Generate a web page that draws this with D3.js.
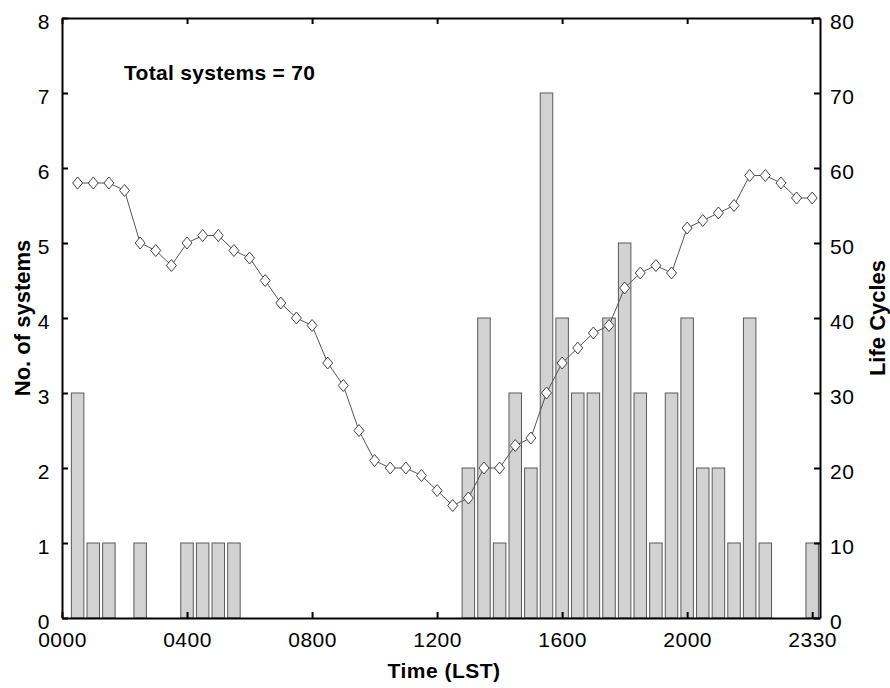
<!DOCTYPE html>
<html>
<head>
<meta charset="utf-8">
<script src="https://cdn.jsdelivr.net/npm/d3@7"></script>
<style>
  body { margin: 0; background: #fff; }
  svg text { font-family: "Liberation Sans", Arial, sans-serif; fill: #000; }
</style>
</head>
<body>
<div id="chart"></div>
<script>
// half-hour slots, index 1..48
const slot_index = [1,2,3,4,5,6,7,8,9,10,11,12,13,14,15,16,17,18,19,20,21,22,23,24,
                    25,26,27,28,29,30,31,32,33,34,35,36,37,38,39,40,41,42,43,44,45,46,47,48];
const system_counts = [3,1,1,0,1,0,0,1,1,1,1,0,0,0,0,0,0,0,0,0,0,0,0,0,
                       0,2,4,1,3,2,7,4,3,3,4,5,3,1,3,4,2,2,1,4,1,0,0,1];
const life_cycles = [58,58,58,57,50,49,47,50,51,51,49,48,45,42,40,39,34,31,25,21,20,20,19,17,
                     15,16,20,20,23,24,30,34,36,38,39,44,46,47,46,52,53,54,55,59,59,58,56,56];
const x_ticks = [0, 8, 16, 24, 32, 40, 48];
const x_tick_labels = ['0000', '0400', '0800', '1200', '1600', '2000', '2330'];
const left_ticks = [0,1,2,3,4,5,6,7,8];
const right_ticks = [0,10,20,30,40,50,60,70,80];

const width = 890, height = 688;
const margin = {top: 18, right: 70, bottom: 70, left: 62};

const svg = d3.select('#chart').append('svg')
    .attr('width', width)
    .attr('height', height);

const x = d3.scaleLinear().domain([0, 48.5]).range([margin.left, width - margin.right]);
const y_left = d3.scaleLinear().domain([0, 8]).range([height - margin.bottom, margin.top]);
const y_right = d3.scaleLinear().domain([0, 80]).range([height - margin.bottom, margin.top]);

const bar_w = x(0.8) - x(0);

// bars
svg.append('g').selectAll('rect')
    .data(slot_index.map((s, i) => ({s: s, v: system_counts[i]})).filter(d => d.v > 0))
    .join('rect')
    .attr('x', d => x(d.s) - bar_w / 2)
    .attr('y', d => y_left(d.v))
    .attr('width', bar_w)
    .attr('height', d => y_left(0) - y_left(d.v))
    .style('fill', '#d2d2d2')
    .style('stroke', '#5a5a5a')
    .style('stroke-width', 1);

// life cycle line
const line = d3.line()
    .x((d, i) => x(slot_index[i]))
    .y(d => y_right(d));

svg.append('path')
    .datum(life_cycles)
    .attr('d', line)
    .style('fill', 'none')
    .style('stroke', '#555')
    .style('stroke-width', 1);

svg.append('g').selectAll('path')
    .data(life_cycles)
    .join('path')
    .attr('transform', (d, i) => 'translate(' + x(slot_index[i]) + ',' + y_right(d) + ')')
    .attr('d', 'M0,-6L5,0L0,6L-5,0Z')
    .style('fill', '#fff')
    .style('stroke', '#444')
    .style('stroke-width', 1);

// axes (inward ticks, boxed)
const tick_font = 21;
const bottom_axis = d3.axisBottom(x).tickValues(x_ticks)
    .tickFormat((d, i) => x_tick_labels[i]).tickSizeInner(-6).tickSizeOuter(0).tickPadding(14);
const top_axis = d3.axisTop(x).tickValues(x_ticks).tickFormat('').tickSizeInner(-6).tickSizeOuter(0);
const left_axis = d3.axisLeft(y_left).tickValues(left_ticks).tickFormat(d3.format('d'))
    .tickSizeInner(-6).tickSizeOuter(0).tickPadding(12);
const right_axis = d3.axisRight(y_right).tickValues(right_ticks).tickFormat(d3.format('d'))
    .tickSizeInner(-6).tickSizeOuter(0).tickPadding(10);

function style_axis (g) {
    g.select('.domain').style('stroke', '#000').style('stroke-width', 2);
    g.selectAll('.tick line').style('stroke', '#000').style('stroke-width', 2);
    g.selectAll('.tick text')
        .style('font-size', tick_font + 'px')
        .style('letter-spacing', '0.5px')
        .attr('fill', '#000');
}

svg.append('g').attr('transform', 'translate(0,' + y_left(0) + ')').call(bottom_axis).call(style_axis);
svg.append('g').attr('transform', 'translate(0,' + y_left(8) + ')').call(top_axis).call(style_axis);
svg.append('g').attr('transform', 'translate(' + x(0) + ',0)').call(left_axis).call(style_axis)
    .selectAll('.tick text').attr('dy', '0.5em');
svg.append('g').attr('transform', 'translate(' + x(48.5) + ',0)').call(right_axis).call(style_axis)
    .selectAll('.tick text').attr('dy', '0.5em');

// labels
svg.append('text')
    .attr('x', 444)
    .attr('y', 678)
    .style('text-anchor', 'middle')
    .style('font-size', '21px')
    .style('font-weight', 'bold')
    .style('letter-spacing', '0.5px')
    .text('Time (LST)');

svg.append('text')
    .attr('transform', 'translate(30,' + (margin.top + y_left(0)) / 2 + ') rotate(-90)')
    .style('text-anchor', 'middle')
    .style('font-size', '22px')
    .style('font-weight', 'bold')
    .text('No. of systems');

svg.append('text')
    .attr('transform', 'translate(885,' + (margin.top + y_left(0)) / 2 + ') rotate(-90)')
    .style('text-anchor', 'middle')
    .style('font-size', '22px')
    .style('font-weight', 'bold')
    .text('Life Cycles');

svg.append('text')
    .attr('x', 124)
    .attr('y', 80)
    .style('font-size', '21px')
    .style('font-weight', 'bold')
    .style('letter-spacing', '0.3px')
    .text('Total systems = 70');
</script>
</body>
</html>
